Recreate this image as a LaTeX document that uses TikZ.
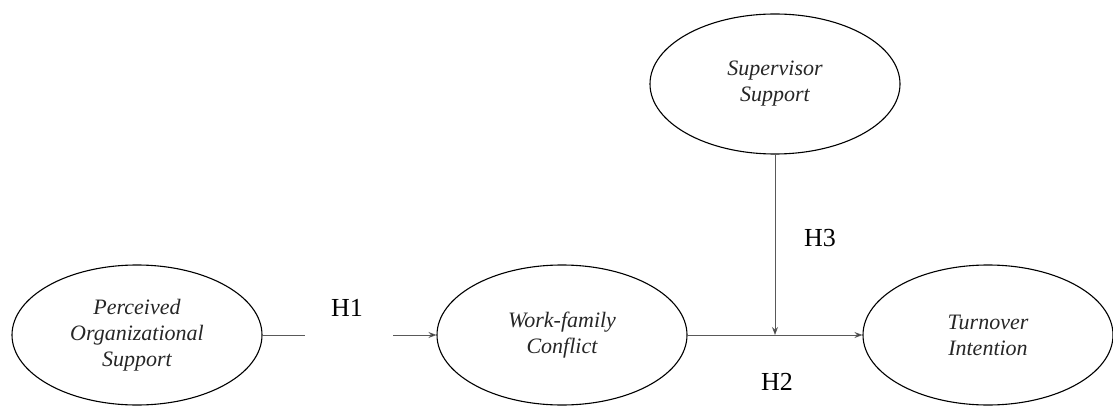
\documentclass[tikz,border=0pt]{standalone}
\usepackage{fontspec}
\setmainfont{Liberation Serif}
\usetikzlibrary{arrows.meta,shapes.geometric}

\begin{document}
\begin{tikzpicture}[x=1pt,y=-1pt,>={Stealth[length=8pt,width=6pt]},
  construct/.style={ellipse,draw,line width=1.1pt,minimum width=250pt,minimum height=140pt,inner sep=0pt,
    align=center,font=\fontsize{22}{26}\selectfont\itshape,text=black!85},
  hyp/.style={font=\fontsize{26}{30}\selectfont},
  link/.style={draw=black!65,line width=0.9pt}]
  \useasboundingbox (0,0) rectangle (1113,406);
  \node[construct] (pos) at (137,335) {Perceived\\Organizational\\Support};
  \node[construct] (wfc) at (562,335) {Work-family\\Conflict};
  \node[construct] (sup) at (775,84)  {Supervisor\\Support};
  \node[construct] (ti)  at (988,335) {Turnover\\Intention};
  \coordinate (gapl) at (305,335);
  \coordinate (gapr) at (393,335);
  \coordinate (mod)  at (sup.south |- wfc.east);
  \node[hyp] (h1) at (347,308) {H1};
  \node[hyp] (h3) at (820,238) {H3};
  \node[hyp] (h2) at (777,382) {H2};
  \path[link]
      (pos.east) -- (gapl)
      (gapr)     edge [->] (wfc.west)
      (wfc.east) edge [->] (ti.west)
      (sup.south) edge [->] (mod);
\end{tikzpicture}
\end{document}
